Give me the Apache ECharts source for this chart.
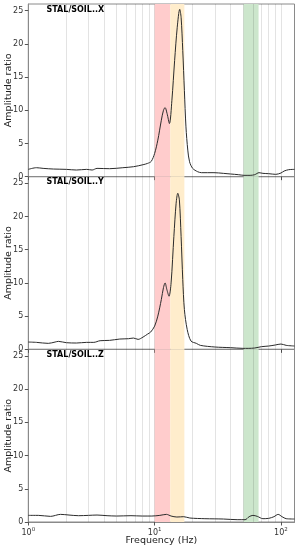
<!DOCTYPE html>
<html>
<head>
<meta charset="utf-8">
<script src="https://cdn.jsdelivr.net/npm/echarts@6/dist/echarts.min.js"></script>
<style>html,body{margin:0;padding:0;background:#fff}#c{width:298px;height:550px}</style>
</head>
<body>
<div id="c"></div>
<script>
const panelTitles = ['STAL/SOIL..X', 'STAL/SOIL..Y', 'STAL/SOIL..Z'];

const freqX = [1, 1.16, 1.31, 1.58, 2.0, 2.4, 2.9, 3.2, 3.5, 4.4, 5.6, 6.8, 8.1, 8.8, 9.4, 10.0, 10.6, 11.3, 11.75, 12.1, 12.55, 13.1, 13.7, 14.4, 15.1, 15.8, 16.2, 16.7, 17.2, 17.7, 18.3, 18.9, 20.0, 21.9, 23.5, 29.5, 35, 40, 46, 51, 57, 62, 67, 72, 80, 91, 100, 106, 115, 128];
const ampX  = [1.1, 1.35, 1.25, 1.15, 1.1, 1.0, 1.1, 1.0, 1.25, 1.2, 1.35, 1.5, 1.8, 2.0, 2.3, 3.5, 5.5, 8.5, 10.0, 10.4, 9.5, 8.0, 11.5, 17.5, 22.5, 25.2, 24.0, 19.0, 13.0, 7.5, 4.0, 2.25, 1.25, 0.75, 0.6, 0.6, 0.5, 0.4, 0.3, 0.2, 0.2, 0.3, 0.6, 0.5, 0.45, 0.35, 0.55, 0.85, 1.05, 1.1];

const freqY = [1, 1.16, 1.44, 1.63, 1.73, 2.0, 2.4, 2.9, 3.3, 3.7, 4.4, 5.3, 6.2, 6.8, 7.4, 8.1, 8.8, 9.3, 10.0, 10.6, 11.3, 11.75, 12.1, 12.5, 13.0, 13.5, 14.2, 14.8, 15.25, 15.7, 16.2, 16.7, 17.2, 18.1, 19.4, 21.4, 23, 30, 40, 50, 55, 62, 70, 80, 90, 100, 110, 128];
const ampY  = [1.1, 1.05, 0.9, 1.1, 1.2, 1.0, 0.95, 1.05, 1.05, 1.3, 1.35, 1.55, 1.6, 1.7, 1.5, 1.85, 2.3, 2.6, 3.5, 5.0, 7.5, 9.3, 10.0, 9.0, 8.0, 10.0, 17.0, 22.0, 23.5, 22.5, 17.0, 10.5, 6.0, 3.0, 1.25, 0.9, 0.6, 0.35, 0.25, 0.15, 0.15, 0.2, 0.4, 0.5, 0.65, 0.8, 0.6, 0.5];

const freqZ = [1, 1.2, 1.5, 1.8, 2.1, 2.5, 3.0, 3.5, 4.2, 5, 6.5, 8, 9.5, 11, 12.4, 13.5, 15, 17, 19, 25, 35, 45, 52, 56, 60, 65, 72, 80, 88, 95, 102, 110, 128];
const ampZ  = [1.0, 1.0, 0.85, 1.15, 1.05, 0.95, 1.0, 1.05, 0.95, 0.9, 0.95, 0.9, 0.9, 1.0, 1.15, 0.9, 0.75, 0.8, 0.6, 0.5, 0.45, 0.35, 0.35, 0.8, 1.0, 0.85, 0.5, 0.55, 0.8, 1.15, 0.8, 0.5, 0.45];

const bandRanges = [[10, 13.3], [13.3, 17.2], [50.5, 66.5]];
const bandColors = ['#ffcccc', '#ffedcc', '#cce6cc'];
const gridFreqs = [2, 3, 4, 5, 6, 7, 8, 9, 10, 20, 30, 40, 50, 60, 70, 80, 90, 100];
const xTickValues = [1, 10, 100];
const yTickValues = [0, 5, 10, 15, 20, 25];

const freqs = [freqX, freqY, freqZ];
const amps = [ampX, ampY, ampZ];

const chart = echarts.init(document.getElementById('c'), null, {renderer: 'canvas'});
const font = 'DejaVu Sans';
const panelTop = 4, panelH = 172.67, left = 28.3, right = 3.5;

const grids = [], xAxes = [], yAxes = [], series = [], titles = [];
for (let i = 0; i < 3; i++) {
  const top = panelTop + i * panelH;
  grids.push({left: left, right: right, top: top, height: panelH, containLabel: false, outerBoundsMode: 'none',
    show: true, borderColor: '#8a8a8a', borderWidth: 1, backgroundColor: 'transparent'});
  xAxes.push({
    type: 'log', logBase: 10, min: 1, max: 128, gridIndex: i,
    axisLine: {show: true, lineStyle: {color: '#8a8a8a', width: 1}},
    axisTick: {show: true, length: 3.5, customValues: xTickValues, lineStyle: {color: '#555'}},
    splitLine: {show: false},
    axisLabel: {
      show: i === 2, customValues: xTickValues, margin: 5,
      fontFamily: font, fontSize: 8, color: '#333',
      formatter: function (v) { return '10{sup|' + Math.round(Math.log10(v)) + '}'; },
      rich: {sup: {fontSize: 5.5, fontFamily: font, color: '#333', padding: [0, 0, 5, 0]}}
    },
    name: i === 2 ? 'Frequency (Hz)' : '',
    nameLocation: 'middle', nameGap: 14, nameMoveOverlap: false,
    nameTextStyle: {fontFamily: font, fontSize: 9.5, color: '#222'}
  });
  yAxes.push({
    type: 'value', min: 0, max: 26, interval: 5, gridIndex: i,
    axisLine: {show: true, lineStyle: {color: '#8a8a8a', width: 1}},
    axisTick: {show: true, length: 3.5, customValues: yTickValues, lineStyle: {color: '#555'}},
    splitLine: {show: false},
    axisLabel: {customValues: yTickValues, margin: 5, fontFamily: font, fontSize: 8, color: '#333'},
    name: 'Amplitude ratio', nameLocation: 'middle', nameGap: 15, nameMoveOverlap: false,
    nameTextStyle: {fontFamily: font, fontSize: 9.5, color: '#222'}
  });
  titles.push({
    text: panelTitles[i], left: 46.5, top: top + 1.5, padding: 0,
    textStyle: {fontFamily: font, fontSize: 8, fontWeight: 'bold', color: '#000'}
  });
  series.push({
    type: 'line', xAxisIndex: i, yAxisIndex: i,
    data: freqs[i].map((f, k) => [f, amps[i][k]]),
    showSymbol: false, smooth: 0.3,
    lineStyle: {color: '#2b2b2b', width: 1},
    z: 3, silent: true, animation: false,
    markArea: {
      silent: true, z: 1,
      data: bandRanges.map((r, k) => [{xAxis: r[0], itemStyle: {color: bandColors[k]}}, {xAxis: r[1]}])
    },
    markLine: {
      silent: true, symbol: 'none', z: 2, animation: false,
      label: {show: false},
      lineStyle: {color: 'rgba(0,0,0,0.11)', type: 'solid', width: 1},
      data: gridFreqs.map(f => ({xAxis: f}))
    }
  });
}

chart.setOption({
  animation: false,
  title: titles,
  grid: grids,
  xAxis: xAxes,
  yAxis: yAxes,
  series: series
});
</script>
</body>
</html>
